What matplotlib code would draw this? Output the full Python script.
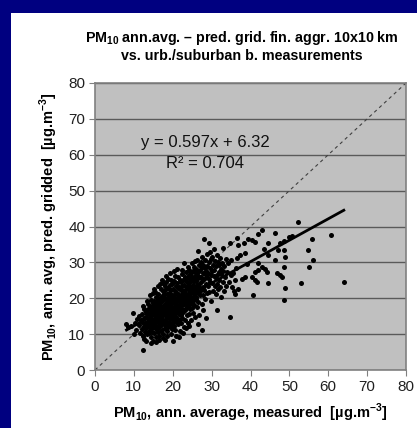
import numpy as np
import matplotlib.pyplot as plt
from matplotlib.patches import Rectangle

plt.rcParams['font.family'] = ['Liberation Sans', 'DejaVu Sans']
plt.rcParams['mathtext.fontset'] = 'custom'
plt.rcParams['mathtext.rm'] = 'Liberation Sans'
plt.rcParams['mathtext.bf'] = 'Liberation Sans:bold'

# measured vs predicted pairs (x = measured, y = predicted)
pts_low = [(8.1,12.7),(8.6,11.9),(9.2,12.4),(9.9,16.0),(10.3,13.1),(10.6,11.2),(10.9,14.2),(11.2,12.6),
           (11.5,10.4),(11.8,13.8),(11.4,15.1),(10.1,10.0),
           (12.0,11.3),(12.1,13.5),(12.2,15.6),(12.3,9.4),(12.4,5.7),(12.5,12.2),(12.6,14.4),(12.7,16.9),
           (12.8,10.6),(12.9,13.0),(12.3,17.8),(12.6,8.6),(13.0,11.8),(13.1,14.9),(13.2,16.2),(13.3,12.7),
           (13.4,9.9),(13.5,15.5),(13.6,13.6),(13.7,18.4),(13.8,11.0),(13.9,14.1),(13.1,8.1),(13.6,17.0),
           (13.9,12.4),(13.4,19.2)]

pts_14_17 = [(14.0,10.3),(14.0,13.2),(14.1,15.8),(14.1,17.6),(14.2,12.0),(14.2,14.6),(14.3,9.1),(14.3,16.7),
             (14.4,11.4),(14.4,13.9),(14.5,19.6),(14.5,15.2),(14.6,12.6),(14.6,17.9),(14.7,10.7),(14.7,14.3),
             (14.8,16.1),(14.8,8.0),(14.9,13.1),(14.9,18.8),(14.1,20.8),(14.5,7.6),(14.8,21.4),
             (15.0,11.9),(15.0,15.6),(15.1,14.0),(15.1,17.2),(15.2,12.8),(15.2,19.1),(15.3,10.2),(15.3,16.4),
             (15.4,13.5),(15.4,21.8),(15.5,15.0),(15.5,18.2),(15.6,11.3),(15.6,14.4),(15.7,16.9),(15.7,20.3),
             (15.8,12.4),(15.8,9.1),(15.9,15.9),(15.9,13.7),(15.2,22.6),(15.6,7.7),(15.9,18.9),(15.4,16.0),
             (16.0,12.1),(16.0,14.8),(16.0,17.5),(16.1,10.6),(16.1,19.6),(16.2,13.4),(16.2,16.2),(16.3,21.2),
             (16.3,11.7),(16.4,15.3),(16.4,18.4),(16.5,13.0),(16.5,9.6),(16.6,16.9),(16.6,14.2),(16.7,20.1),
             (16.7,12.3),(16.8,17.8),(16.8,15.7),(16.9,10.9),(16.9,22.6),(16.2,23.4),(16.5,19.0),(16.9,13.9),
             (16.4,8.4),(16.7,24.1),
             (17.0,14.6),(17.0,18.9),(17.1,12.5),(17.1,16.3),(17.2,20.7),(17.2,11.2),(17.3,15.1),(17.3,17.6),
             (17.4,13.6),(17.4,22.0),(17.5,19.5),(17.5,10.1),(17.6,16.8),(17.6,14.0),(17.7,21.1),(17.7,12.8),
             (17.8,18.1),(17.8,15.5),(17.9,23.3),(17.9,11.6),(17.2,25.0),(17.5,8.9),(17.8,13.2),(17.1,20.0),
             (17.6,24.3)]

pts_18_21 = [(18.0,13.9),(18.0,17.0),(18.0,20.2),(18.1,15.4),(18.1,22.4),(18.2,12.1),(18.2,18.6),(18.3,16.1),
             (18.3,24.5),(18.4,14.5),(18.4,21.3),(18.5,10.8),(18.5,19.4),(18.6,17.5),(18.6,13.1),(18.7,22.9),
             (18.7,15.8),(18.8,20.0),(18.8,11.9),(18.9,18.0),(18.9,14.9),(18.3,26.2),(18.6,9.5),(18.9,25.3),
             (18.1,8.5),
             (19.0,16.6),(19.0,21.6),(19.1,13.5),(19.1,19.2),(19.2,23.7),(19.2,15.1),(19.3,17.8),(19.3,12.2),
             (19.4,20.5),(19.4,14.3),(19.5,22.3),(19.5,18.4),(19.6,16.0),(19.6,25.1),(19.7,11.3),(19.7,19.9),
             (19.8,14.8),(19.8,21.0),(19.9,17.1),(19.9,13.2),(19.3,26.9),(19.6,10.0),(19.9,24.0),
             (20.0,15.6),(20.0,19.0),(20.0,22.7),(20.1,8.2),(20.1,17.3),(20.2,13.8),(20.2,20.9),(20.3,24.8),
             (20.3,16.4),(20.4,12.4),(20.4,18.6),(20.5,22.0),(20.5,14.9),(20.6,20.2),(20.6,26.3),(20.7,17.7),
             (20.7,11.2),(20.8,23.4),(20.8,15.9),(20.9,19.5),(20.9,13.5),(20.4,27.5),(20.8,9.6),
             (21.0,16.8),(21.0,21.4),(21.1,18.2),(21.1,24.3),(21.2,14.6),(21.2,20.0),(21.3,22.8),(21.3,12.9),
             (21.4,17.3),(21.4,26.0),(21.5,19.1),(21.5,15.5),(21.6,23.1),(21.6,21.0),(21.7,13.9),(21.7,18.0),
             (21.8,25.1),(21.8,16.2),(21.9,20.5),(21.9,11.0),(21.2,28.2),(21.6,9.3)]

pts_22_27 = [(22.0,17.9),(22.0,22.4),(22.1,15.2),(22.1,19.7),(22.2,24.6),(22.2,13.2),(22.3,21.2),(22.3,17.0),
             (22.4,26.7),(22.4,18.8),(22.5,23.3),(22.5,14.6),(22.6,20.4),(22.6,16.1),(22.7,25.2),(22.7,22.0),
             (22.8,29.8),(22.8,18.3),(22.9,12.1),(22.9,20.9),(22.3,27.9),(22.6,10.4),
             (23.0,19.3),(23.0,23.8),(23.1,16.6),(23.1,21.6),(23.2,26.0),(23.2,14.0),(23.3,18.4),(23.3,24.9),
             (23.4,22.5),(23.4,17.2),(23.5,20.0),(23.5,27.3),(23.6,15.3),(23.6,23.0),(23.7,19.0),(23.7,25.7),
             (23.8,21.3),(23.8,13.0),(23.9,17.9),(23.9,28.6),(23.4,11.6),
             (24.0,20.6),(24.0,24.2),(24.1,18.0),(24.1,26.6),(24.2,22.3),(24.2,15.6),(24.3,19.5),(24.3,28.0),
             (24.4,23.5),(24.4,16.9),(24.5,25.3),(24.5,21.2),(24.6,13.8),(24.6,18.7),(24.7,27.0),(24.7,22.8),
             (24.8,20.1),(24.8,24.7),(24.9,29.9),(24.9,17.4),(24.3,12.3),
             (25.0,21.8),(25.0,25.9),(25.1,19.3),(25.1,23.6),(25.2,27.6),(25.2,16.0),(25.3,9.7),(25.3,22.0),
             (25.4,24.8),(25.4,20.5),(25.5,28.7),(25.5,18.2),(25.6,26.3),(25.6,23.0),(25.7,14.7),(25.7,21.4),
             (25.8,25.2),(25.8,30.3),(25.9,19.8),(25.9,27.1),
             (26.0,22.6),(26.0,24.9),(26.1,20.3),(26.1,28.1),(26.2,26.4),(26.2,17.7),(26.3,23.7),(26.3,30.8),
             (26.4,21.5),(26.5,25.6),(26.5,19.0),(26.6,33.3),(26.6,27.4),(26.7,23.0),(26.8,29.4),(26.8,15.3),
             (26.9,21.9),(26.9,25.9),(26.4,12.9),
             (27.0,24.3),(27.0,27.8),(27.1,20.8),(27.2,26.0),(27.2,30.0),(27.3,22.6),(27.4,18.4),(27.4,28.6),
             (27.5,24.9),(27.6,11.1),(27.6,31.5),(27.7,23.2),(27.7,26.9),(27.8,21.0),(27.9,29.3),(27.9,16.7)]

pts_28_36 = [(28.0,36.4),(28.0,25.4),(28.1,22.2),(28.2,28.3),(28.3,26.7),(28.3,19.8),(28.4,30.6),(28.5,24.0),
             (28.6,27.5),(28.7,32.2),(28.8,21.4),(28.8,25.8),(28.9,29.0),(28.5,14.5),
             (29.0,23.3),(29.1,27.0),(29.2,30.2),(29.3,25.3),(29.4,35.5),(29.4,21.8),(29.5,28.4),(29.6,33.0),
             (29.7,24.6),(29.8,26.5),(29.9,31.0),(29.9,19.1),
             (30.0,31.6),(30.1,27.6),(30.2,24.2),(30.3,29.2),(30.4,22.0),(30.5,26.3),(30.6,33.8),(30.7,28.0),
             (30.8,23.5),(30.9,30.4),(31.0,25.7),(31.1,21.2),(31.2,28.9),(31.3,16.7),(31.3,32.1),(31.4,26.6),
             (31.5,24.0),(31.6,30.0),(31.7,22.6),(31.8,27.4),(31.9,29.3),(32.0,25.1),(32.1,31.3),(32.2,23.0),
             (32.3,28.2),(32.4,20.4),(32.5,26.8),(32.6,29.9),(32.8,24.5),(32.9,27.7),
             (33.0,34.1),(33.1,22.1),(33.3,28.9),(33.5,25.8),(33.6,31.0),(33.8,23.5),(34.0,27.2),(34.2,29.8),
             (34.4,24.6),(34.7,35.5),(34.8,14.9),(34.9,26.4),(35.1,30.6),(35.3,23.0),(35.6,26.9),(35.7,22.0),
             (35.9,21.2),(36.0,25.1),(36.2,28.4),(36.4,36.7),(36.6,31.2),(36.9,22.7),(36.9,34.8)]

pts_high = [(37.3,32.1),(37.7,25.5),(38.2,35.3),(38.6,32.5),(38.6,26.0),(39.0,29.5),(39.4,36.4),(40.3,26.0),
            (40.4,36.2),(40.6,20.8),(41.2,35.8),(41.2,27.4),(41.2,25.1),(41.8,24.4),(42.0,37.9),(42.0,29.7),
            (42.0,27.9),(42.9,28.8),(43.0,39.0),(43.6,33.6),(43.7,28.1),(44.2,27.4),(44.4,35.5),(44.6,32.1),
            (44.6,24.2),
            (46.3,38.3),(46.3,30.7),(46.7,26.9),(47.2,33.4),(47.5,35.5),(47.6,26.5),(48.0,26.0),(48.6,19.5),
            (48.7,36.0),(48.7,33.4),(48.7,28.6),(48.9,31.6),(49.0,22.9),(50.0,37.0),(50.6,37.4),(52.3,41.2),
            (52.9,24.2),(54.7,33.4),(55.0,28.8),(55.7,36.4),(56.1,30.8),(60.8,37.5),(64.0,24.4)]

slope = 0.597
intercept = 6.32
r2 = 0.704

pts = np.array(pts_low + pts_14_17 + pts_18_21 + pts_22_27 + pts_28_36 + pts_high)
measured = pts[:, 0]
predicted = pts[:, 1]

fig = plt.figure(figsize=(4.17, 4.28), dpi=100, facecolor='#000080')
# white panel inside the blue frame
fig.add_artist(Rectangle((11/417, 0), 1 - 11/417, 1 - 13/428, transform=fig.transFigure,
                         facecolor='white', edgecolor='none', zorder=0))

ax = fig.add_axes([95/417, 58/428, 311/417, 287/428])
ax.set_facecolor('#C0C0C0')
ax.set_xlim(0, 80)
ax.set_ylim(0, 80)
ax.set_xticks(range(0, 81, 10))
ax.set_yticks(range(0, 81, 10))
ax.yaxis.grid(True, color='#5a5a5a', linewidth=1)
ax.set_axisbelow(True)
for s in ax.spines.values():
    s.set_color('#808080')
    s.set_linewidth(1.2)
ax.tick_params(direction='out', length=4, color='#808080', labelsize=11, labelcolor='#202020', pad=3)

# 1:1 line
ax.plot([0, 80], [0, 80], linestyle=(0, (3, 3)), color='#404040', linewidth=0.8, zorder=2)
ax.scatter(measured, predicted, s=13, color='black', linewidths=0, zorder=3)
xf = np.array([measured.min(), measured.max()])
ax.plot(xf, slope * xf + intercept, color='black', linewidth=2, zorder=4)

ax.text(28.3, 63.3, f'y = {slope}x + {intercept}', ha='center', va='center', fontsize=12, color='#111111')
ax.text(28.3, 57.6, f'R² = {r2}', ha='center', va='center', fontsize=12, color='#111111')

fig.text(242/417, 1 - 46/428,
         'PM$_\\mathbf{10}$ ann.avg. – pred. grid. fin. aggr. 10x10 km\nvs. urb./suburban b. measurements',
         ha='center', va='center', fontsize=10.3, fontweight='bold', linespacing=1.15)
ax.set_xlabel('PM$_\\mathbf{10}$, ann. average, measured  [µg.m$^\\mathbf{-3}$]',
              fontsize=10.5, fontweight='bold', labelpad=6)
ax.set_ylabel('PM$_\\mathbf{10}$, ann. avg, pred. gridded  [µg.m$^\\mathbf{-3}$]',
              fontsize=10.5, fontweight='bold', labelpad=6)

fig.savefig('out.png', dpi=100, facecolor=fig.get_facecolor())
